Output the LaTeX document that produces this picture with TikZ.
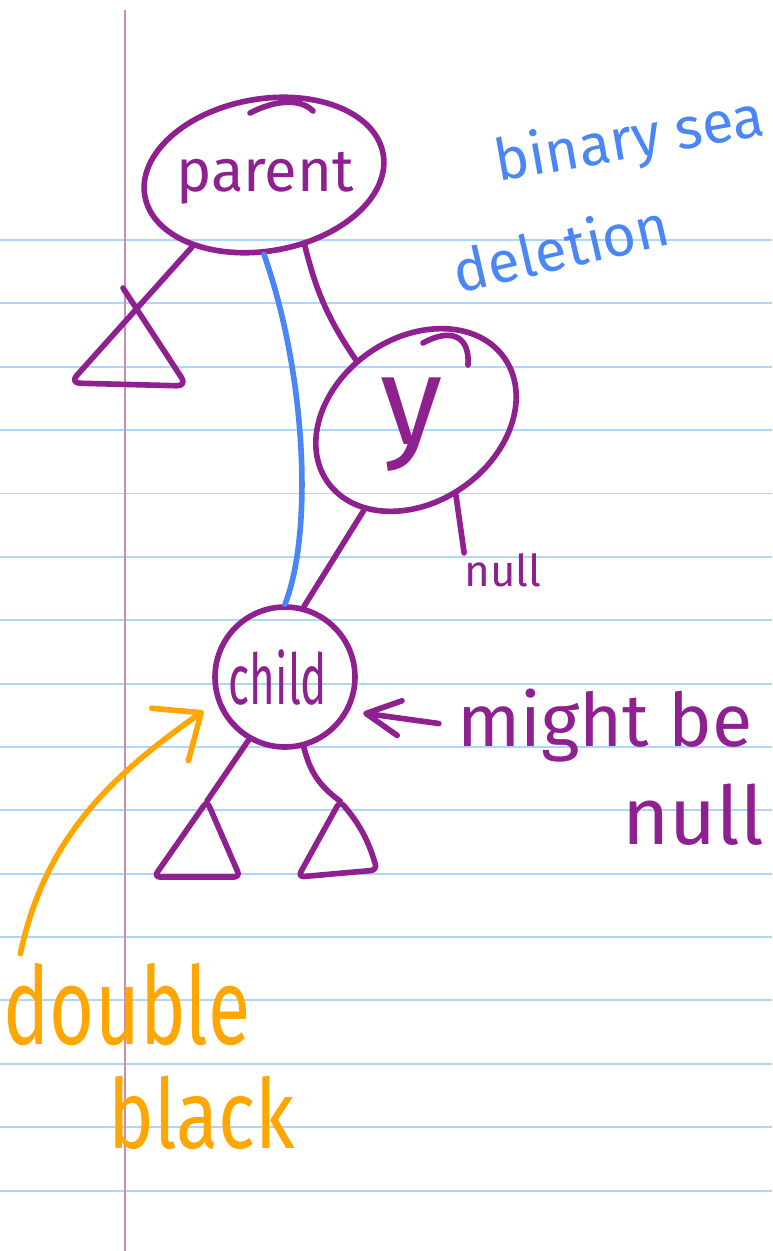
\documentclass[tikz,border=0pt]{standalone}
\usepackage{fontspec}
\setmainfont{Fira Sans}
\usetikzlibrary{shapes.geometric,arrows.meta}

\definecolor{inkpurple}{RGB}{142,32,143}
\definecolor{inkblue}{RGB}{74,134,246}
\definecolor{inkorange}{RGB}{255,166,0}
\definecolor{ruleblue}{RGB}{172,215,250}
\definecolor{marginpink}{RGB}{205,142,170}

\tikzset{
  inkline/.style={inkpurple, line width=3.2pt, line cap=round, line join=round},
  ruleline/.style={ruleblue, line width=1.1pt},
  marginline/.style={marginpink, line width=1.1pt},
  treenode/.style={draw=inkpurple, line width=3.2pt, inner sep=0pt},
  word/.style={inner sep=0pt, text=inkpurple},
}

\begin{document}
\begin{tikzpicture}[x=0.02cm, y=-0.02cm]
  \useasboundingbox (0,0) rectangle (772,1251);
  \fill[white] (0,0) rectangle (772,1251);
  % paper
  \foreach \k in {0,...,15}
    \draw[ruleline] (0,{240+63.37*\k}) -- (772,{240+63.37*\k});
  \draw[marginline] (125,10) -- (125,1251);

  % tree nodes
  \node[treenode, ellipse, minimum width=4.84cm, minimum height=3.04cm, rotate=10] (parent) at (264,175) {};
  \node[word, font=\fontsize{34}{40}\selectfont] (parentword) at (265,178) {parent};
  \node[treenode, ellipse, minimum width=4.32cm, minimum height=3.28cm, rotate=35] (y) at (416,420) {};
  \node[word, font=\fontsize{72}{80}\selectfont] (yword) at (412,425) {y};
  \node[treenode, circle, minimum size=2.8cm] (child) at (285,677) {};
  \node[word, font=\fontsize{25}{30}\selectfont] (childword) at (278,678) {\scalebox{1}[1.6]{child}};
  \node[word, font=\fontsize{25}{30}\selectfont] (ynull) at (503,570) {null};

  % subtrees
  \coordinate (ltap) at (123,288);
  \coordinate (ltbl) at (70,383);
  \coordinate (ltbr) at (187,386);
  \coordinate (clap) at (207,801);
  \coordinate (clbl) at (154,877);
  \coordinate (clbr) at (240,877);
  \coordinate (crap) at (340,801);
  \coordinate (crbl) at (298,877);
  \coordinate (crbr) at (377,870);

  % links
  \draw[inkline, rounded corners=0.2cm] (parent.215) -- (ltbl) -- (ltbr) -- (ltap);
  \draw[inkline] (parent.-70) to[bend right=10] (y.100);
  \draw[inkline] (y.205) -- (child.75);
  \draw[inkline] (y.-97) -- (ynull.north west);
  \draw[inkline] (child.240) -- (clap);
  \draw[inkline, rounded corners=0.12cm] (clap) -- (clbl) -- (clbr) -- cycle;
  \draw[inkline] (child.-75) to[bend right=20] (crap);
  \draw[inkline, rounded corners=0.12cm] (crap) to[bend left=12] (crbr) -- (crbl) -- cycle;
  % pen overshoots
  \draw[inkline] (250,113) .. controls (275,100) and (300,98) .. (313,111);
  \draw[inkline] (423,343) .. controls (450,328) and (470,335) .. (468,365);
  % new link after deletion
  \draw[inkline, inkblue] (parent.-100) .. controls (305,370) and (314,530) .. (child.north);

  % notes
  \node[word, text=inkblue, font=\fontsize{33}{38}\selectfont, rotate=10] (title) at (630,142) {binary sea};
  \node[word, text=inkblue, font=\fontsize{33}{38}\selectfont, rotate=13] (deletion) at (561,247) {deletion};
  \node[word, font=\fontsize{42}{48}\selectfont] (might) at (605,726) {might be};
  \node[word, font=\fontsize{46}{50}\selectfont] (mightnull) at (693,815) {null};
  \draw[inkline, -{Straight Barb[length=0.68cm, width=0.7cm, round]}, shorten <=0.36cm, shorten >=0.28cm] (might.west) -- (child.-28);

  \node[word, text=inkorange, font=\fontsize{44}{50}\selectfont] (dbl) at (127,1005) {\scalebox{1}[1.4]{double}};
  \node[word, text=inkorange, font=\fontsize{44}{50}\selectfont] (blk) at (202,1113) {\scalebox{1}[1.25]{black}};
  \draw[inkline, inkorange, -{Straight Barb[length=0.76cm, width=1.28cm, round]}, shorten <=0.2cm, shorten >=0.32cm] ([xshift=0.3cm]dbl.north west) to[out=78, in=215] (child.200);
\end{tikzpicture}
\end{document}
